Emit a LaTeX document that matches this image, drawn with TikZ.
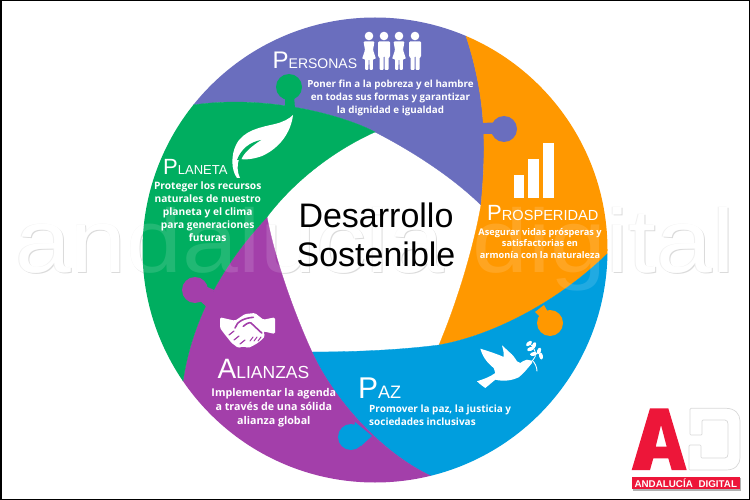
\documentclass[tikz,border=0pt]{standalone}
\usepackage{fontspec}
\setmainfont{Liberation Sans}
\newfontfamily\descFont{Open Sans}
\usepackage{tikz}
\newcommand\ringSize{232.5}
\newcommand\knobSize{13}
\newcommand\wmText{\scalebox{1.115}[1]{\fontsize{90}{90}\selectfont andalucia digital}}
\definecolor{colPersonas}{RGB}{106,110,190}
\definecolor{colProsperidad}{RGB}{255,152,0}
\definecolor{colPaz}{RGB}{0,158,222}
\definecolor{colAlianzas}{RGB}{163,63,170}
\definecolor{colPlaneta}{RGB}{0,174,96}
\definecolor{colLogo}{RGB}{237,22,57}
\tikzset{
  titleNode/.style={anchor=base west,inner sep=0pt,text=white},
  descNode/.style 2 args={inner sep=0pt,text=white,align=center,font=\descFont\bfseries\fontsize{#1}{#2}\selectfont},
  wmNode/.style={inner sep=0pt,anchor=base},
  segment/.style={fill=#1,draw=#1,line width=.3pt}
}

\begin{document}
\begin{tikzpicture}[x=1pt,y=-1pt]

    \useasboundingbox (0,0) rectangle (750,500);
    \fill[white] (0,0) rectangle (750,500);

    \coordinate (ctr) at (375,250);
    \coordinate (vTop) at (375,132);
    \coordinate (vRight) at (481,205);
    \coordinate (vBotR) at (439,345);
    \coordinate (vBotL) at (312,352);
    \coordinate (vLeft) at (267,217);
    \coordinate (ptA) at (193,105);
    \coordinate (ptB) at (466,36);
    \coordinate (ptC) at (607,254);
    \coordinate (ptD) at (431,476);
    \coordinate (ptE) at (183,381);

    \node[wmNode,text=black!14] (wmShadowA) at (376,273) {\wmText};
    \node[wmNode,text=black!6] (wmShadowB) at (374.4,272) {\wmText};
    \node[wmNode,text=white] (wmBase) at (375,272) {\wmText};

    \begin{scope}
      \clip (ctr) circle[radius=\ringSize];
      \path[segment=colPersonas] (vTop) .. controls (345,116) and (268,94) .. (ptA) -- (100,0) -- (470,0) -- (ptB) .. controls (487,100) and (486,150) .. (vRight) .. controls (450,175) and (410,150) .. (vTop) -- cycle;
      \path[segment=colProsperidad] (vRight) .. controls (486,150) and (487,100) .. (ptB) -- (470,0) -- (700,0) -- (700,250) -- (ptC) .. controls (560,300) and (495,335) .. (vBotR) .. controls (460,295) and (475,240) .. (vRight) -- cycle;
      \path[segment=colPaz] (vBotR) .. controls (495,335) and (560,300) .. (ptC) -- (700,250) -- (700,500) -- (435,500) -- (ptD) .. controls (380,452) and (333,398) .. (vBotL) .. controls (355,352) and (400,350) .. (vBotR) -- cycle;
      \path[segment=colAlianzas] (vBotL) .. controls (333,398) and (380,452) .. (ptD) -- (435,500) -- (100,500) -- (ptE) .. controls (192,320) and (222,265) .. (vLeft) .. controls (275,260) and (295,315) .. (vBotL) -- cycle;
      \path[segment=colPlaneta] (vLeft) .. controls (222,265) and (192,320) .. (ptE) -- (100,500) -- (0,500) -- (0,0) -- (100,0) -- (ptA) .. controls (268,94) and (345,116) .. (vTop) .. controls (335,150) and (295,180) .. (vLeft) -- cycle;
    \end{scope}

    \fill[colPlaneta] (289,87) circle (\knobSize);
    \fill[colPlaneta] (285,95) -- (294,95) -- (295,109) -- (285,108) -- cycle;
    \fill[colPersonas] (504,129) circle (\knobSize);
    \fill[colPersonas] (480,123) -- (495,122.5) -- (495,134) -- (480,134) -- cycle;
    \fill[colProsperidad] (550,323) circle (\knobSize);
    \fill[colProsperidad] (535,312) -- (544,305) -- (549,314) -- (542,319) -- cycle;
    \fill[colPaz] (351,437) circle (\knobSize);
    \fill[colPaz] (355,422) -- (372,436) -- (361,446) -- (353,432) -- cycle;
    \fill[colAlianzas] (195,290) circle (\knobSize);
    \fill[colAlianzas] (203,285) -- (214,290) -- (208,308) -- (199,300) -- cycle;

    \node[wmNode,text=white,text opacity=.13] (wmTint) at (375,272) {\wmText};

    \foreach \cx in {369,399} {
      \fill[white] (\cx,36) circle (4.3);
      \fill[white,rounded corners=1pt] (\cx-5.5,41.5) -- (\cx+5.5,41.5) -- (\cx+4,50) -- (\cx+7,59) -- (\cx+3.8,59) -- (\cx+3.8,70) -- (\cx+.6,70) -- (\cx+.4,59) -- (\cx-.4,59) -- (\cx-.6,70) -- (\cx-3.8,70) -- (\cx-3.8,59) -- (\cx-7,59) -- (\cx-4,50) -- cycle;
    }
    \foreach \cx in {384,415} {
      \fill[white] (\cx,36) circle (4.3);
      \fill[white,rounded corners=1pt] (\cx-6,41.5) -- (\cx+6,41.5) -- (\cx+6,57) -- (\cx+4.5,57) -- (\cx+4.5,70) -- (\cx+.5,70) -- (\cx+.5,56) -- (\cx-.5,56) -- (\cx-.5,70) -- (\cx-4.5,70) -- (\cx-4.5,57) -- (\cx-6,57) -- cycle;
    }

    \fill[white] (293,115) .. controls (291,132) and (280,148) .. (262,156) .. controls (254,159) and (246,160) .. (239,159) .. controls (237,165) and (237,172) .. (240,178) -- (237,178) .. controls (231,170) and (231,155) .. (236,145) .. controls (243,130) and (262,127) .. (275,124) .. controls (283,122) and (289,119) .. (293,115) -- cycle;
    \fill[colPlaneta] (261,140) .. controls (250,142) and (241,149) .. (237,160) -- (241,160) .. controls (244,152) and (252,146) .. (261,140) -- cycle;

    \fill[white] (513.5,175.5) rectangle (523.7,198);
    \fill[white] (528.3,158.7) rectangle (539,198);
    \fill[white] (543.3,142.7) rectangle (553.7,198);

    \fill[white,rounded corners=1.5pt] (220,317.3) -- (235,320.7) -- (245,314) -- (255,313) -- (263.3,319.7) -- (275,317.3) -- (275,334) -- (263.3,331.3) -- (265,336.3) -- (260,341.3) -- (255,344.7) -- (248.3,348) -- (243.3,346.3) -- (238.3,348) -- (231.7,343) -- (225,334.7) -- (220,328) -- cycle;
    \draw[colAlianzas,line width=1.6pt,line cap=round] (235,328) .. controls (237,321) and (245,318) .. (253.3,317.3);
    \draw[colAlianzas,line width=1.6pt,line cap=round] (243.3,326.3) .. controls (246,324) and (249,322) .. (251,323) -- (261.7,333);
    \foreach \gx/\gy in {229/335,234/340,240/344} {
      \draw[colAlianzas,line width=1.2pt,line cap=round] (\gx,\gy) -- (\gx+5,\gy-4);
    }
    \foreach \gx in {254,258,262} {
      \draw[colAlianzas,line width=1pt,line cap=round] (\gx-1,337) -- (\gx-4,341);
    }

    \fill[white] (532,360.7) -- (527,359.7) .. controls (524,360) and (522,362) .. (520.3,363) -- (517,361.3) .. controls (515,358) and (512,354) .. (510.3,353) -- (502,345.3) .. controls (503,349) and (504,352) .. (503.7,357) .. controls (497,354) and (488,351) .. (480.3,348.7) .. controls (482,355) and (486,362) .. (493.7,368) -- (495.3,373) .. controls (490,377) and (484,379) .. (477,381.3) .. controls (480,384) and (482,386) .. (485.3,388) -- (495.3,379.7) .. controls (505,382) and (513,380) .. (518.7,377.3) .. controls (523,374) and (528,368) .. (532,363) -- cycle;
    \draw[white,line width=.9pt] (532,360) .. controls (535,363) and (537,367) .. (537,371.3);
    \draw[white,line width=.8pt] (533,360) .. controls (538,356) and (535,348) .. (529,343);
    \foreach \lx/\ly/\la in {529/343.5/40,534/345.5/70,530.5/349/20,539/351/70,533.5/354/10,541/356/100} {
      \fill[white,rotate around={\la:(\lx,\ly)}] (\lx,\ly) ellipse (3.5 and 1.9);
    }

    \node[font=\fontsize{34}{38.5}\selectfont,align=center,inner sep=0pt] (mainTitle) at (376,235) {Desarrollo\\Sostenible};

    \node[titleNode] (titlePersonas) at (272.5,69) {{\fontsize{24}{24}\selectfont P}{\fontsize{14}{14}\selectfont ERSONAS}};
    \node[titleNode] (titlePlaneta) at (163,175) {{\fontsize{22}{22}\selectfont P}{\fontsize{13}{13}\selectfont LANETA}};
    \node[titleNode] (titleProsperidad) at (487,220.7) {{\fontsize{22}{22}\selectfont P}{\fontsize{14.6}{14.6}\selectfont ROSPERIDAD}};
    \node[titleNode] (titleAlianzas) at (217.5,378) {{\fontsize{28}{28}\selectfont A}{\fontsize{17.5}{17.5}\selectfont LIANZAS}};
    \node[titleNode] (titlePaz) at (358,398) {{\fontsize{30}{30}\selectfont P}{\fontsize{18}{18}\selectfont AZ}};

    \node[descNode={9.8}{13}] (descPersonas) at (390.5,98) {Poner fin a la pobreza y el hambre\\en todas sus formas y garantizar\\la dignidad e igualdad};
    \node[descNode={10.2}{13}] (descPlaneta) at (207.7,212) {Proteger los recursos\\naturales de nuestro\\planeta y el clima\\para generaciones\\futuras};
    \node[descNode={9.2}{11.7}] (descProsperidad) at (540,243.3) {Asegurar vidas prósperas y\\satisfactorias en\\armonía con la naturaleza};
    \node[descNode={10.7}{13.7}] (descAlianzas) at (273.8,407.7) {Implementar la agenda\\a través de una sólida\\alianza global};
    \node[inner sep=0pt,text=white,align=left,anchor=west,font=\descFont\bfseries\fontsize{10}{12.5}\selectfont] (descPaz) at (369,415.2) {Promover la paz, la justicia y\\sociedades inclusivas};

    \fill[colLogo] (650,408.3) -- (668.3,408.3) -- (686.7,470) -- (671.7,470) -- (668.3,458.3) -- (653.3,458.3) -- (650,470) -- (631.7,470) -- cycle (661,425) -- (655.7,446.7) -- (666.7,446.7) -- cycle;
    \draw[black!15,fill=white,line width=.7pt,rounded corners=1pt] (690,408.3) -- (725,408.3) .. controls (735,408.3) and (740,414) .. (740,422) -- (740,456) .. controls (740,465) and (735,470) .. (725,470) -- (689,470) -- (689,445) -- (701,445) -- (701,458) -- (724,458) .. controls (727,458) and (728,456) .. (728,453) -- (728,425) .. controls (728,422) and (727,420) .. (724,420) -- (702,420) -- (702,435) -- (690,435) -- cycle;
    \fill[black!30] (632.5,478) rectangle (740.5,490.5);
    \node[fill=colLogo,text=white,inner sep=0pt,minimum width=108.3pt,minimum height=12pt,font=\bfseries\fontsize{9.8}{9.8}\selectfont] (logoBar) at (685.8,483.3) {ANDALUCÍA\hspace{3pt} DIGITAL};

    \draw[black,line width=3pt] (0,0) rectangle (750,500);

  \end{tikzpicture}
\end{document}
